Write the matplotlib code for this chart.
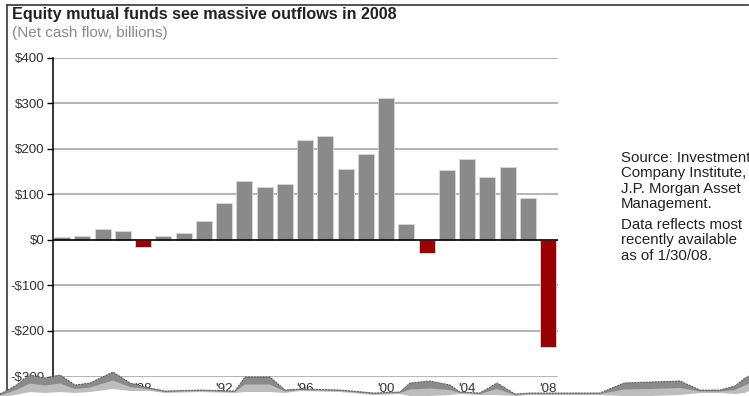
import numpy as np
import matplotlib.pyplot as plt
from matplotlib.patches import Polygon
from matplotlib.lines import Line2D

plt.rcParams['font.family'] = ['Liberation Sans', 'DejaVu Sans']

# Net cash flow into equity mutual funds, $ billions
years = list(range(1984, 2009))
flows = [6, 8, 23, 20, -15, 8, 15, 42, 81, 129, 116, 123, 219, 229, 156,
         188, 311, 34, -29, 153, 178, 137, 161, 93, -235]
yticks = [400, 300, 200, 100, 0, -100, -200, -300]
ytick_labels = ['$400', '$300', '$200', '$100', '$0', '-$100', '-$200', '-$300']
xtick_years = [1984, 1988, 1992, 1996, 2000, 2004, 2008]

W, H = 749, 396
fig = plt.figure(figsize=(W / 100, H / 100), dpi=100)
fig.patch.set_facecolor('white')

ax = fig.add_axes([53 / W, 1 - 376.5 / H, 505 / W, (376.5 - 57.7) / H])

x = np.arange(len(years))
colors = ['#990000' if v < 0 else '#8a8a8a' for v in flows]
ax.bar(x, flows, width=0.79, color=colors, edgecolor='#d8d8d8', linewidth=0.6, zorder=3)

ax.set_ylim(-300, 400)
ax.set_xlim(-0.45, 24.49)
ax.set_yticks(yticks)
ax.set_yticklabels(ytick_labels, fontsize=9.6, color='#333333')
for v in yticks:
    if v != 0:
        ax.axhline(v, color='#a8a8a8', linewidth=1.2, zorder=1)
ax.axhline(0, color='black', linewidth=1.2, zorder=4)

ax.set_xticks([years.index(y) for y in xtick_years])
ax.set_xticklabels(["'" + str(y)[2:] for y in xtick_years], fontsize=9.6, color='#333333')
ax.tick_params(axis='x', length=0, pad=5)
ax.tick_params(axis='y', length=4, width=1, color='black', pad=2)

for s in ['top', 'right', 'bottom']:
    ax.spines[s].set_visible(False)
ax.spines['left'].set_color('black')
ax.spines['left'].set_linewidth(1.1)

# frame lines
fig.add_artist(Line2D([7 / W, 748 / W], [1 - 5 / H, 1 - 5 / H], color='#444444', lw=1.3))
fig.add_artist(Line2D([7 / W, 7 / W], [0, 1 - 5 / H], color='#444444', lw=1.3))

# titles
fig.text(12 / W, 1 - 14 / H, 'Equity mutual funds see massive outflows in 2008',
         fontsize=11.6, fontweight='bold', color='#222222', va='center')
fig.text(12 / W, 1 - 33 / H, '(Net cash flow, billions)',
         fontsize=11.0, color='#8a8a8a', va='center')

# side notes
note1 = 'Source: Investment\nCompany Institute,\nJ.P. Morgan Asset\nManagement.'
note2 = 'Data reflects most\nrecently available\nas of 1/30/08.'
fig.text(621 / W, 1 - 151 / H, note1, fontsize=10.8, color='#222222',
         va='top', linespacing=1.13)
fig.text(621 / W, 1 - 218 / H, note2, fontsize=10.8, color='#222222',
         va='top', linespacing=1.13)

# torn paper edge at the bottom (decoration)
edge_x = [0, 15, 30, 45, 60, 75, 90, 113, 130, 150, 165, 200, 235, 245, 270,
          285, 300, 340, 374, 400, 410, 430, 450, 460, 480, 497, 515, 530,
          600, 624, 650, 680, 700, 720, 735, 745, 749]
edge_y = [394, 386, 375, 378, 375, 385, 383, 372, 383, 388, 391, 390, 391, 377,
          377, 390, 389, 390, 393, 392, 383, 381, 385, 392, 393, 383, 394, 393,
          393, 383, 382, 381, 390, 390, 386, 378, 376]
depth = [3, 9, 17, 15, 17, 8, 9, 17, 8, 3, 2, 2, 2, 15, 15, 3, 2, 2,
         2, 2, 13, 15, 10, 2, 2, 12, 2, 2, 2, 13, 14, 14, 3, 3, 8, 15, 15]
top = [(ex / W, 1 - ey / H) for ex, ey in zip(edge_x, edge_y)]
mid = [(ex / W, 1 - (ey + d * 0.5) / H) for ex, ey, d in zip(edge_x, edge_y, depth)]
low = [(ex / W, 1 - (ey + d) / H) for ex, ey, d in zip(edge_x, edge_y, depth)]
for pts, fc, z in [(top, '#8a8a8a', 10), (mid, '#bdbdbd', 11), (low, 'white', 12)]:
    fig.add_artist(Polygon(pts + [(1, -0.05), (0, -0.05)], closed=True, facecolor=fc,
                           edgecolor='none', transform=fig.transFigure, zorder=z))
fig.add_artist(Line2D([p[0] for p in top], [p[1] for p in top], color='#555555',
                      lw=0.7, ls=(0, (2, 1)), zorder=13))

fig.savefig('out.png', dpi=100)
